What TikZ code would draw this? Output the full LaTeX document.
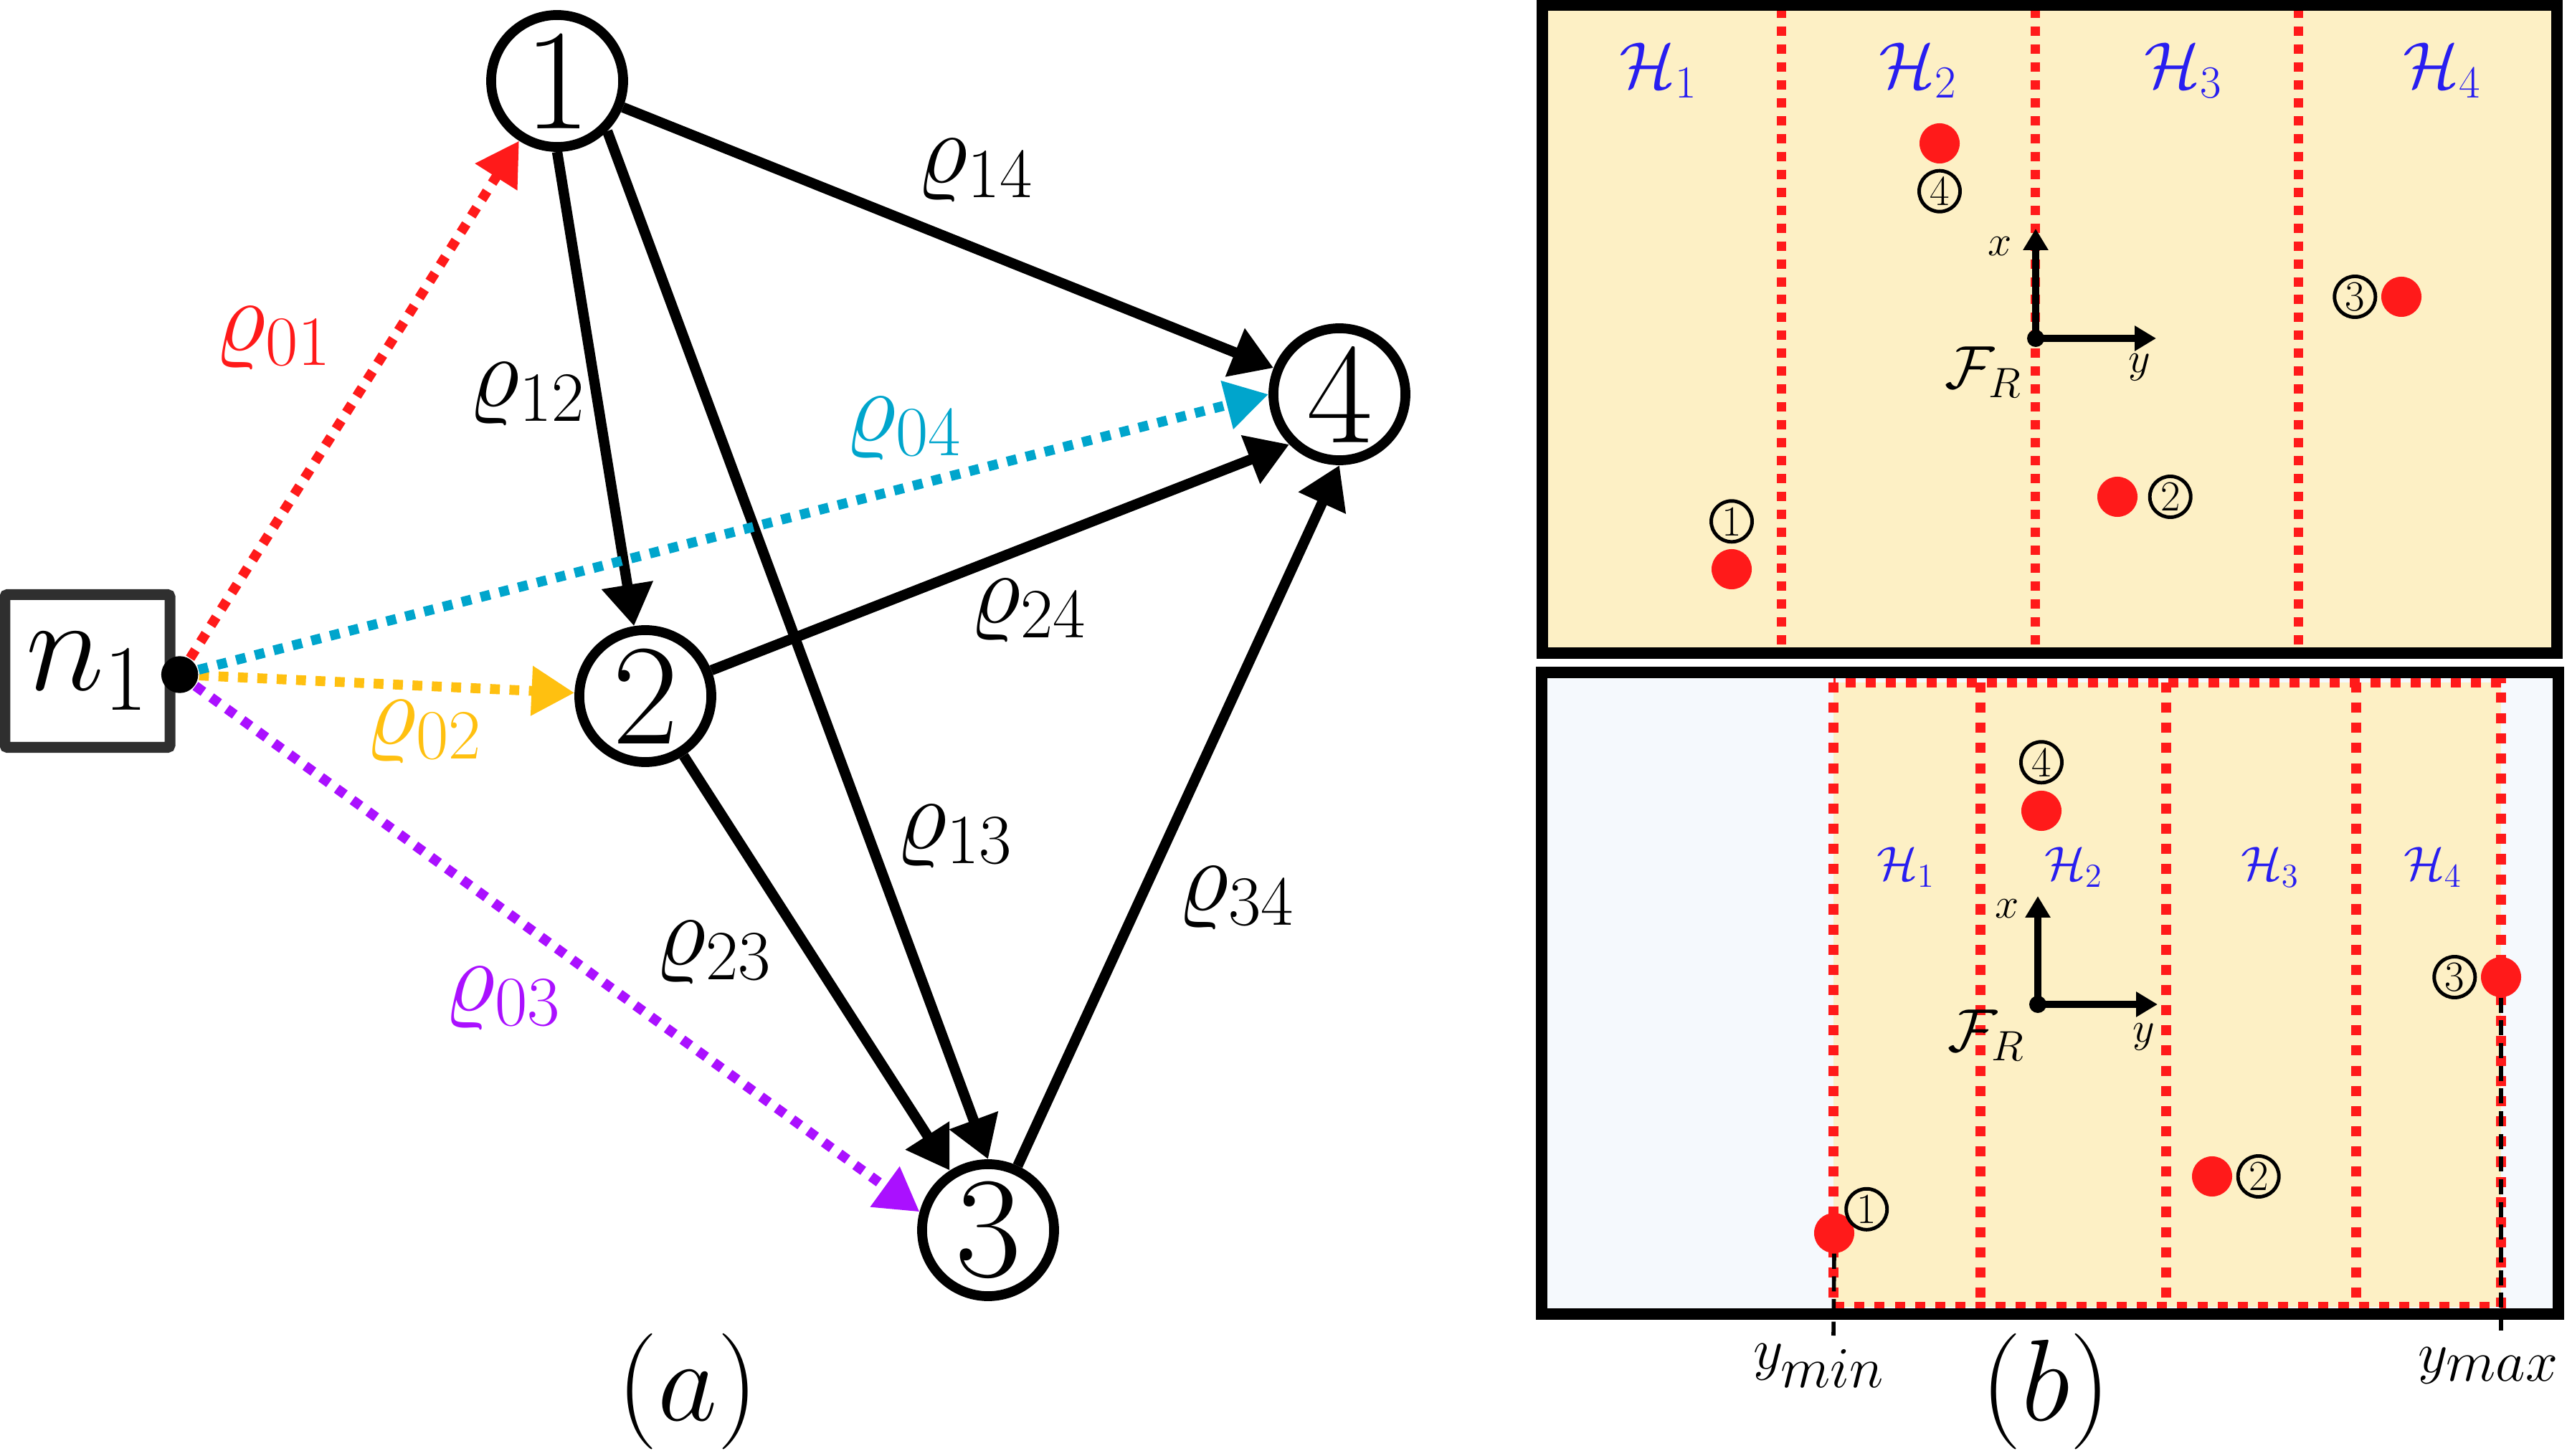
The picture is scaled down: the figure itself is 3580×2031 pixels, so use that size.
\RequirePackage{fix-cm}
\documentclass[tikz,border=0pt]{standalone}
\usetikzlibrary{arrows.meta,positioning}

\definecolor{rhored}{RGB}{255,26,26}
\definecolor{rhoyellow}{RGB}{255,192,16}
\definecolor{rhocyan}{RGB}{0,165,204}
\definecolor{rhopurple}{RGB}{170,16,255}
\definecolor{cellfill}{RGB}{253,240,197}
\definecolor{skyfill}{RGB}{245,249,253}
\definecolor{hblue}{RGB}{40,30,240}
\definecolor{boxgray}{RGB}{47,47,47}

\begin{document}
\begin{tikzpicture}[x=0.01cm,y=-0.01cm,
    vertex/.style={circle,draw,line width=3.9pt,minimum size=1.84cm,inner sep=0pt,font=\fontsize{57}{60}\selectfont},
    link/.style={line width=4.1pt,-{Triangle[length=16.5pt,width=19.6pt]}},
    flow/.style={line width=3.9pt,dash pattern=on 3.9pt off 3.8pt,-{Triangle[length=17pt,width=18.8pt]}},
    rho/.style={font=\fontsize{40}{44}\selectfont},
    split/.style={draw=rhored,line width=3.7pt,dash pattern=on 3.7pt off 3.4pt},
    splitb/.style={draw=rhored,line width=4pt,dash pattern=on 4pt off 4pt},
    robot/.style={circle,fill=rhored,minimum size=0.56cm,inner sep=0pt},
    circnum/.style={circle,draw,line width=1.4pt,minimum size=0.57cm,inner sep=0pt,font=\fontsize{17}{18}\selectfont},
    frameaxis/.style={line width=2.6pt,-{Triangle[length=8.5pt,width=9.5pt]}},
    axlab/.style={font=\fontsize{17}{18}\selectfont},
    framelab/.style={font=\fontsize{24}{26}\selectfont}]

    \useasboundingbox (0,0) rectangle (3580,2031);

    % (a) graph
    \node[draw=boxgray,line width=4.3pt,rounded corners=1pt,minimum width=2.3cm,
        minimum height=2.13cm,inner sep=0pt,font=\fontsize{53}{56}\selectfont] (n1) at (122,936) {$n_1$};
    \coordinate (src) at ([xshift=0.06cm,yshift=-0.05cm]n1.east);
    \node[vertex] (v1) at (777,113) {1};
    \node[vertex] (v2) at (900,971) {2};
    \node[vertex] (v3) at (1378,1716) {3};
    \node[vertex] (v4) at (1868,550) {4};

    \draw[link] (v1.south) -- (v2);
    \draw[link] (v1.south east) -- (v3.north);
    \draw[link] (v1) -- (v4);
    \draw[link] (v2) -- (v4.south west);
    \draw[link] (v2) -- (v3);
    \draw[link] (v3) -- (v4.south);

    \draw[flow,rhored] (src) -- (v1);
    \draw[flow,rhoyellow] (src) -- (v2);
    \draw[flow,rhopurple] (src) -- (v3.165);
    \draw[flow,rhocyan] (src) -- (v4.west);
    \filldraw[black] (src) circle (0.25cm);

    \node[rho,rhored] (l01) at (381,472) {$\varrho_{01}$};
    \node[rho,rhoyellow] (l02) at (591,1021) {$\varrho_{02}$};
    \node[rho,rhopurple] (l03) at (701,1393) {$\varrho_{03}$};
    \node[rho,rhocyan] (l04) at (1260,598) {$\varrho_{04}$};
    \node[rho] (l12) at (735,550) {$\varrho_{12}$};
    \node[rho] (l13) at (1331,1167) {$\varrho_{13}$};
    \node[rho] (l14) at (1360,238) {$\varrho_{14}$};
    \node[rho] (l23) at (995,1329) {$\varrho_{23}$};
    \node[rho] (l24) at (1434,852) {$\varrho_{24}$};
    \node[rho] (l34) at (1724,1253) {$\varrho_{34}$};

    \node[font=\fontsize{46}{50}\selectfont] (capa) at (959,1941) {$(a)$};

    % (b) top: cells
    \fill[cellfill] (2151,7) rectangle (3566,911);
    \foreach \xx in {2484,2838,3205}
        \draw[split] (\xx,12) -- (\xx,911);
    \draw[line width=4.3pt] (2151,7) rectangle (3566,911);

    \foreach \i/\xx in {1/2313,2/2675,3/3045,4/3406}
        \node[hblue,font=\fontsize{26}{28}\selectfont] (ht\i) at (\xx,98) {$\mathcal{H}_\i$};

    \node[robot] (t1) at (2415,794) {};
    \node[robot] (t2) at (2953,693) {};
    \node[robot] (t3) at (3349,414) {};
    \node[robot] (t4) at (2705,200) {};
    \node[circnum,above=0.07cm of t1] (ct1) {1};
    \node[circnum,right=0.14cm of t2] (ct2) {2};
    \node[circnum,left=0.05cm of t3] (ct3) {3};
    \node[circnum,below=0.07cm of t4] (ct4) {4};

    \coordinate (ot) at (2839,472);
    \coordinate (xt) at (2839,319);
    \coordinate (yt) at (3007,472);
    \draw[frameaxis] (ot) -- (xt);
    \draw[frameaxis] (ot) -- (yt);
    \fill (ot) circle (0.12cm);
    \node[axlab] (xlt) at (2789,344) {$x$};
    \node[axlab] (ylt) at (2984,512) {$y$};
    \node[framelab] (frt) at (2766,519) {$\mathcal{F}_R$};

    % (b) bottom: cells between y_min and y_max
    \fill[skyfill] (2150,938) rectangle (3568,1833);
    \fill[cellfill] (2557,952) rectangle (3488,1823);
    \foreach \xx in {2762,3021,3286}
        \draw[splitb] (\xx,952) -- (\xx,1823);
    \draw[splitb] (2557,952) rectangle (3488,1823);
    \draw[line width=4.3pt] (2150,938) rectangle (3568,1833);

    \foreach \i/\xx in {1/2658,2/2892,3/3166,4/3393}
        \node[hblue,font=\fontsize{19}{21}\selectfont] (hb\i) at (\xx,1210) {$\mathcal{H}_\i$};

    \node[robot] (b1) at (2558,1720) {};
    \node[robot] (b2) at (3085,1641) {};
    \node[robot] (b3) at (3488,1363) {};
    \node[robot] (b4) at (2847,1131) {};
    \node[circnum,above right=-0.09cm and 0.03cm of b1] (cb1) {1};
    \node[circnum,right=0.05cm of b2] (cb2) {2};
    \node[circnum,left=0.05cm of b3] (cb3) {3};
    \node[circnum,above=0.08cm of b4] (cb4) {4};

    \coordinate (ylo) at (2557,1863);
    \coordinate (yhi) at (3488,1863);
    \draw[line width=1.6pt,dash pattern=on 6pt off 3pt] (b1.south) -- (ylo);
    \draw[line width=1.6pt,dash pattern=on 6pt off 3pt] (b3.south) -- (yhi);
    \node[font=\fontsize{23}{25}\selectfont] (ymin) at (2537,1905) {$y_{\textstyle min}$};
    \node[font=\fontsize{23}{25}\selectfont] (ymax) at (3471,1905) {$y_{\textstyle max}$};

    \coordinate (ob) at (2842,1401);
    \coordinate (xb) at (2842,1250);
    \coordinate (yb) at (3009,1401);
    \draw[frameaxis] (ob) -- (xb);
    \draw[frameaxis] (ob) -- (yb);
    \fill (ob) circle (0.12cm);
    \node[axlab] (xlb) at (2799,1268) {$x$};
    \node[axlab] (ylb) at (2990,1446) {$y$};
    \node[framelab] (frb) at (2770,1444) {$\mathcal{F}_R$};

    \node[font=\fontsize{46}{50}\selectfont] (capb) at (2853,1941) {$(b)$};

\end{tikzpicture}
\end{document}
